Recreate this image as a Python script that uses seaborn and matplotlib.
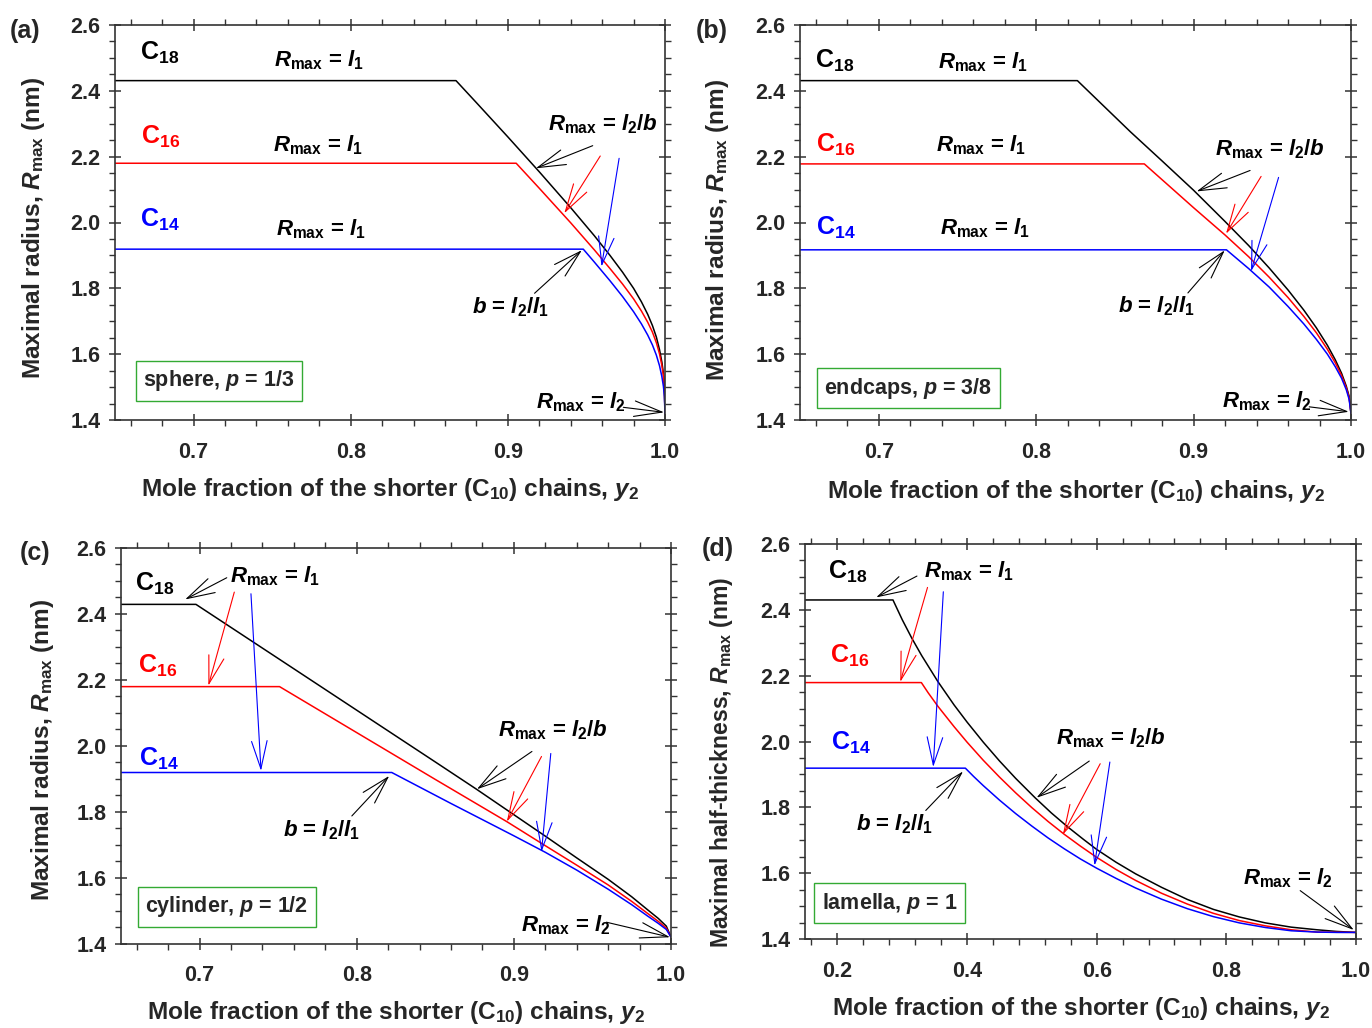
import matplotlib
matplotlib.use("Agg")
import matplotlib.pyplot as plt
import seaborn as sns
from matplotlib.ticker import MultipleLocator, FormatStrFormatter

# ---------------- data ----------------
# (a) sphere, p = 1/3
a_c18_y2 = [0.65, 0.867, 0.88, 0.90, 0.92, 0.94, 0.955, 0.965, 0.973, 0.98, 0.985, 0.989, 0.992, 0.9945, 0.9965, 0.998, 0.999, 0.9996, 1.0]
a_c18_R = [2.431, 2.431, 2.364, 2.260, 2.154, 2.045, 1.960, 1.900, 1.849, 1.800, 1.759, 1.721, 1.687, 1.652, 1.614, 1.576, 1.541, 1.50, 1.42]
a_c16_y2 = [0.65, 0.9053, 0.92, 0.94, 0.955, 0.965, 0.973, 0.98, 0.985, 0.989, 0.992, 0.9945, 0.9965, 0.998, 0.999, 0.9996, 1.0]
a_c16_R = [2.18, 2.18, 2.104, 1.999, 1.917, 1.860, 1.813, 1.768, 1.731, 1.697, 1.667, 1.635, 1.601, 1.566, 1.534, 1.495, 1.42]
a_c14_y2 = [0.65, 0.948, 0.955, 0.965, 0.973, 0.98, 0.985, 0.989, 0.992, 0.9945, 0.9965, 0.998, 0.999, 0.9996, 1.0]
a_c14_R = [1.919, 1.919, 1.880, 1.823, 1.775, 1.729, 1.692, 1.658, 1.628, 1.597, 1.565, 1.532, 1.502, 1.472, 1.42]

# (b) endcaps, p = 3/8
b_c18_y2 = [0.65, 0.8262, 0.86, 0.88, 0.90, 0.92, 0.935, 0.948, 0.96, 0.97, 0.978, 0.985, 0.99, 0.994, 0.997, 0.9988, 1.0]
b_c18_R = [2.431, 2.431, 2.275, 2.187, 2.098, 2.003, 1.93, 1.862, 1.795, 1.734, 1.68, 1.627, 1.583, 1.542, 1.503, 1.472, 1.42]
b_c16_y2 = [0.65, 0.8687, 0.88, 0.90, 0.92, 0.935, 0.948, 0.96, 0.97, 0.978, 0.985, 0.99, 0.994, 0.997, 0.9988, 1.0]
b_c16_R = [2.178, 2.178, 2.13, 2.045, 1.962, 1.896, 1.834, 1.772, 1.715, 1.665, 1.615, 1.574, 1.535, 1.498, 1.468, 1.42]
b_c14_y2 = [0.65, 0.9209, 0.935, 0.948, 0.96, 0.97, 0.978, 0.985, 0.99, 0.994, 0.997, 0.9988, 1.0]
b_c14_R = [1.917, 1.917, 1.86, 1.804, 1.745, 1.692, 1.645, 1.60, 1.562, 1.527, 1.492, 1.463, 1.42]

# (c) cylinder, p = 1/2
c_c18_y2 = [0.65, 0.6977, 0.75, 0.80, 0.85, 0.876, 0.90, 0.92, 0.94, 0.96, 0.975, 0.985, 0.992, 0.997, 1.0]
c_c18_R = [2.429, 2.429, 2.265, 2.108, 1.951, 1.869, 1.791, 1.726, 1.660, 1.595, 1.542, 1.503, 1.476, 1.453, 1.42]
c_c16_y2 = [0.65, 0.7509, 0.80, 0.85, 0.8955, 0.92, 0.94, 0.96, 0.975, 0.985, 0.992, 0.997, 1.0]
c_c16_R = [2.1795, 2.1795, 2.04, 1.898, 1.770, 1.697, 1.638, 1.578, 1.528, 1.492, 1.467, 1.447, 1.42]
c_c14_y2 = [0.65, 0.8223, 0.86, 0.90, 0.92, 0.94, 0.96, 0.975, 0.985, 0.992, 0.997, 1.0]
c_c14_R = [1.919, 1.919, 1.825, 1.727, 1.677, 1.623, 1.565, 1.518, 1.484, 1.461, 1.443, 1.42]

# (d) lamella, p = 1
d_c18_y2 = [0.15, 0.2857, 0.30, 0.315, 0.33, 0.355, 0.38, 0.40, 0.425, 0.45, 0.475, 0.505, 0.53, 0.555, 0.58, 0.60,
            0.63, 0.66, 0.70, 0.74, 0.78, 0.82, 0.86, 0.90, 0.94, 0.97, 1.0]
d_c18_R = [2.430, 2.430, 2.370, 2.313, 2.261, 2.182, 2.111, 2.059, 1.998, 1.941, 1.888, 1.829, 1.783, 1.741, 1.702, 1.672,
           1.633, 1.598, 1.557, 1.520, 1.490, 1.467, 1.449, 1.436, 1.428, 1.423, 1.42]
d_c16_y2 = [0.15, 0.3295, 0.34, 0.355, 0.38, 0.40, 0.425, 0.45, 0.475, 0.50, 0.525, 0.55, 0.575, 0.60, 0.63, 0.66,
            0.70, 0.74, 0.78, 0.82, 0.86, 0.90, 0.94, 0.97, 1.0]
d_c16_R = [2.179, 2.179, 2.148, 2.107, 2.045, 1.998, 1.943, 1.892, 1.844, 1.799, 1.757, 1.718, 1.682, 1.648, 1.611, 1.578,
           1.539, 1.506, 1.478, 1.456, 1.440, 1.428, 1.421, 1.4205, 1.42]
d_c14_y2 = [0.15, 0.3974, 0.41, 0.425, 0.45, 0.475, 0.50, 0.525, 0.55, 0.575, 0.60, 0.63, 0.66, 0.70, 0.74, 0.78,
            0.82, 0.86, 0.90, 0.94, 0.97, 1.0]
d_c14_R = [1.919, 1.919, 1.894, 1.866, 1.822, 1.781, 1.743, 1.707, 1.674, 1.643, 1.615, 1.584, 1.555, 1.521, 1.492, 1.468,
           1.449, 1.435, 1.425, 1.421, 1.42, 1.42]

chain_labels = ["C$_{18}$", "C$_{16}$", "C$_{14}$"]
shape_labels = ["sphere, $p$ = 1/3", "endcaps, $p$ = 3/8", "cylinder, $p$ = 1/2", "lamella, $p$ = 1"]
panel_tags = ["(a)", "(b)", "(c)", "(d)"]
xlabel_text = "Mole fraction of the shorter (C$_{10}$) chains, $y_2$"
ylabel_texts = ["Maximal radius, $R_{\\rm max}$ (nm)", "Maximal radius, $R_{\\rm max}$ (nm)",
                "Maximal radius, $R_{\\rm max}$ (nm)", "Maximal half-thickness, $R_{\\rm max}$ (nm)"]
ylabel_sizes = [17.6, 17.6, 17.6, 16.6]

# ---------------- style ----------------
sns.set_theme(style="ticks")
plt.rcParams["font.family"] = ["Liberation Sans", "DejaVu Sans"]
plt.rcParams["font.weight"] = "bold"
plt.rcParams["mathtext.fontset"] = "custom"
plt.rcParams["mathtext.rm"] = "Liberation Sans:bold"
plt.rcParams["mathtext.it"] = "Liberation Sans:italic:bold"
plt.rcParams["mathtext.bf"] = "Liberation Sans:bold"
plt.rcParams["axes.linewidth"] = 1.2

colors = ["#000000", "#ff0000", "#0000ff"]
W, H = 1372, 1028
fig = plt.figure(figsize=(W / 100, H / 100), dpi=100)
fig.patch.set_facecolor("white")

# axes boxes in pixels: left, top, right, bottom
boxes = [(115, 25, 665, 420), (800, 25, 1351, 420), (121, 548, 671, 943.6), (805, 544, 1356, 939)]
xlims = [(0.65, 1.0), (0.65, 1.0), (0.65, 1.0), (0.15, 1.0)]

curves = [
    [(a_c18_y2, a_c18_R), (a_c16_y2, a_c16_R), (a_c14_y2, a_c14_R)],
    [(b_c18_y2, b_c18_R), (b_c16_y2, b_c16_R), (b_c14_y2, b_c14_R)],
    [(c_c18_y2, c_c18_R), (c_c16_y2, c_c16_R), (c_c14_y2, c_c14_R)],
    [(d_c18_y2, d_c18_R), (d_c16_y2, d_c16_R), (d_c14_y2, d_c14_R)],
]

RL1 = "$R_{\\rm max}$ = $l_1$"
RL2B = "$R_{\\rm max}$ = $l_2$/$b$"
RL2 = "$R_{\\rm max}$ = $l_2$"
BL = "$b$ = $l_2$/$l_1$"

# text annotations per panel: (text, x, y, color)
texts = [
    [(RL1, 0.7515, 2.473, "k"), (RL1, 0.7505, 2.215, "k"), (RL1, 0.7525, 1.962, "k"),
     (RL2B, 0.9254, 2.281, "k"), (BL, 0.8769, 1.724, "k"), (RL2, 0.9178, 1.4355, "k")],
    [(RL1, 0.7376, 2.4686, "k"), (RL1, 0.7362, 2.216, "k"), (RL1, 0.739, 1.963, "k"),
     (RL2B, 0.9137, 2.2026, "k"), (BL, 0.8518, 1.7254, "k"), (RL2, 0.9178, 1.437, "k")],
    [(RL1, 0.7196, 2.4966, "k"), (RL2B, 0.89, 2.0274, "k"), (BL, 0.7531, 1.7264, "k"),
     (RL2, 0.9045, 1.4375, "k")],
    [(RL1, 0.3329, 2.4986, "k"), (RL2B, 0.5376, 1.9914, "k"), (BL, 0.2292, 1.7296, "k"),
     (RL2, 0.8258, 1.5673, "k")],
]
chain_pos = [
    [(0.6657, 2.494), (0.6663, 2.2405), (0.6657, 1.987)],
    [(0.6593, 2.4686), (0.6602, 2.216), (0.6602, 1.963)],
    [(0.6592, 2.4713), (0.6609, 2.22), (0.6615, 1.939)],
    [(0.1851, 2.4955), (0.1885, 2.2389), (0.1905, 1.9751)],
]
# arrows: (tail_x, tail_y, tip_x, tip_y, color)
arrows = [
    [(0.954, 2.2334, 0.9178, 2.1646, "k"), (0.9588, 2.202, 0.9359, 2.028, "r"),
     (0.9708, 2.195, 0.9596, 1.866, "b"), (0.9170, 1.785, 0.9471, 1.916, "k"),
     (0.9735, 1.4385, 0.9994, 1.4233, "k")],
    [(0.9359, 2.1581, 0.9019, 2.0944, "k"), (0.9429, 2.140, 0.9206, 1.966, "r"),
     (0.954, 2.137, 0.9365, 1.852, "b"), (0.8964, 1.786, 0.9198, 1.9155, "k"),
     (0.9735, 1.440, 0.9986, 1.425, "k")],
    [(0.7173, 2.5098, 0.6908, 2.4439, "k"), (0.7221, 2.4662, 0.7056, 2.1824, "r"),
     (0.7327, 2.4612, 0.7391, 1.924, "b"), (0.9115, 1.9828, 0.8765, 1.8683, "k"),
     (0.9176, 1.9676, 0.8955, 1.770, "r"), (0.9235, 1.9767, 0.9176, 1.6787, "b"),
     (0.7969, 1.7872, 0.8207, 1.9088, "k"), (0.9589, 1.4649, 0.9994, 1.4193, "k")],
    [(0.3227, 2.5026, 0.2597, 2.4377, "k"), (0.339, 2.4681, 0.297, 2.181, "r"),
     (0.3634, 2.4549, 0.3478, 1.9224, "b"), (0.5885, 1.9406, 0.5071, 1.829, "k"),
     (0.6054, 1.9325, 0.5478, 1.7175, "r"), (0.6203, 1.9376, 0.5966, 1.6231, "b"),
     (0.3363, 1.7905, 0.3939, 1.9092, "k"), (0.9139, 1.547, 0.9966, 1.4274, "k")],
]
box_pos = [(0.668, 1.519), (0.6655, 1.497), (0.6655, 1.512), (0.1762, 1.509)]
tag_pos = [(25, 31), (712, 31), (35, 553), (718, 549)]
xlabel_y = [-0.177, -0.182, -0.173, -0.175]
ylabel_pos = [(-0.149, 0.486), (-0.149, 0.481), (-0.1436, 0.489), (-0.151, 0.446)]
cmap = {"k": "#000000", "r": "#ff0000", "b": "#0000ff"}

for i in range(4):
    l, t, r, b = boxes[i]
    ax = fig.add_axes([l / W, 1 - b / H, (r - l) / W, (b - t) / H])
    for j, (xs, ys) in enumerate(curves[i]):
        sns.lineplot(x=xs, y=ys, ax=ax, color=colors[j], lw=1.1, sort=False, estimator=None)
    ax.set_xlim(*xlims[i])
    ax.set_ylim(1.4, 2.6)
    if i < 3:
        ax.xaxis.set_major_locator(MultipleLocator(0.1))
        ax.xaxis.set_minor_locator(MultipleLocator(0.02))
    else:
        ax.xaxis.set_major_locator(MultipleLocator(0.2))
        ax.xaxis.set_minor_locator(MultipleLocator(0.04))
    ax.yaxis.set_major_locator(MultipleLocator(0.2))
    ax.yaxis.set_minor_locator(MultipleLocator(0.05))
    ax.xaxis.set_major_formatter(FormatStrFormatter("%.1f"))
    ax.yaxis.set_major_formatter(FormatStrFormatter("%.1f"))
    ax.tick_params(which="major", direction="inout", length=9, width=1.1, top=True, right=True,
                   labelsize=15.5, pad=6, color="#333333")
    ax.tick_params(axis="x", which="major", pad=11)
    ax.tick_params(which="minor", direction="out", length=4, width=1.0, top=True, right=True,
                   color="#333333")
    for lab in ax.get_xticklabels() + ax.get_yticklabels():
        lab.set_fontweight("bold")
    for sp in ax.spines.values():
        sp.set_color("#333333")
        sp.set_visible(True)

    ax.set_xlabel(xlabel_text, fontsize=17.6, fontweight="bold")
    ax.xaxis.set_label_coords(0.5, xlabel_y[i])
    ax.xaxis.label.set_va("center")
    ax.set_ylabel(ylabel_texts[i], fontsize=ylabel_sizes[i], fontweight="bold")
    ax.yaxis.set_label_coords(*ylabel_pos[i])
    ax.yaxis.label.set_va("center")

    for j, (cx, cy) in enumerate(chain_pos[i]):
        ax.text(cx, cy, chain_labels[j], color=colors[j], fontsize=18, fontweight="bold",
                ha="left", va="baseline")
    for (s, x, y, c) in texts[i]:
        ax.text(x, y, s, color=cmap[c], fontsize=16, ha="left", va="baseline")
    for (x0, y0, x1, y1, c) in arrows[i]:
        ax.annotate("", xy=(x1, y1), xytext=(x0, y0),
                    arrowprops=dict(arrowstyle="->,head_length=1.0,head_width=0.28",
                                    color=cmap[c], lw=0.8, shrinkA=0, shrinkB=0,
                                    mutation_scale=20))
    ax.text(box_pos[i][0], box_pos[i][1], shape_labels[i], fontsize=15.5, fontweight="bold",
            ha="left", va="center",
            bbox=dict(boxstyle="square,pad=0.35", fc="white", ec="#33aa33", lw=1.0))
    fig.text(tag_pos[i][0] / W, 1 - tag_pos[i][1] / H, panel_tags[i], fontsize=18,
             fontweight="bold", ha="center", va="center")

fig.savefig("out.png", dpi=100, facecolor="white")
